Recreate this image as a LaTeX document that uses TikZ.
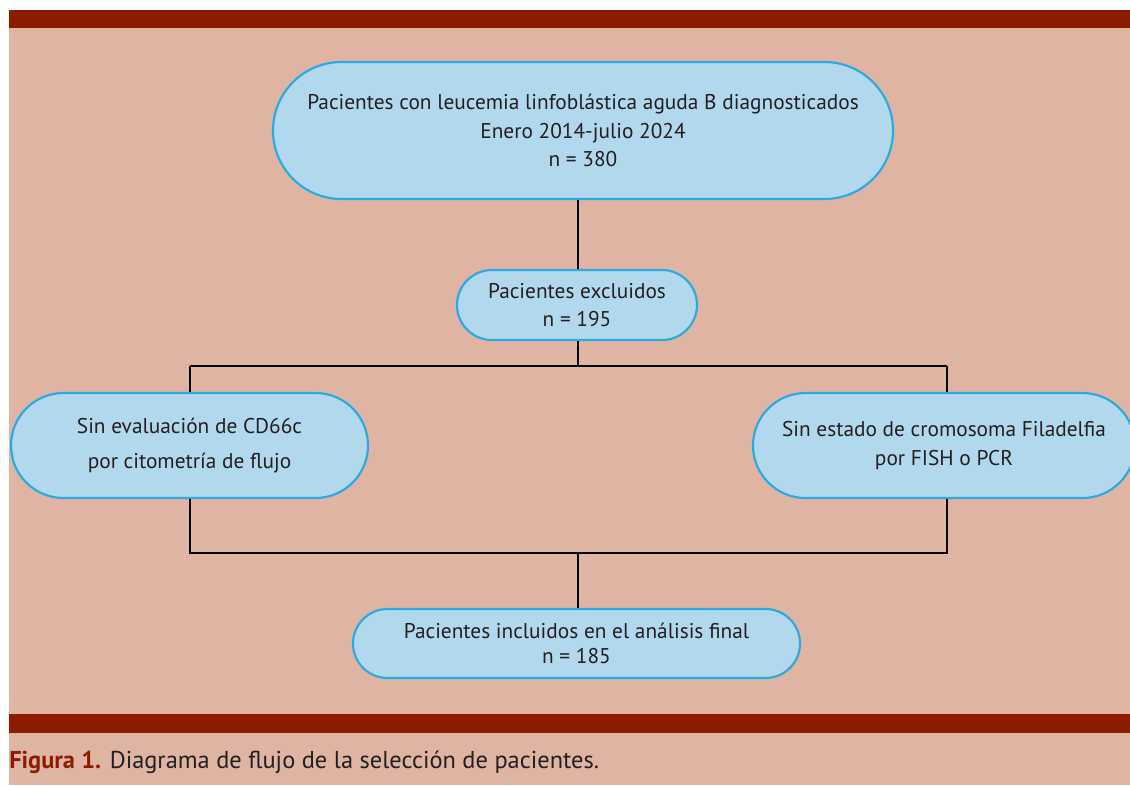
\documentclass[tikz,border=0pt]{standalone}
\usepackage{fontspec}
\setmainfont{PT Sans}
\usetikzlibrary{shapes.misc}
\definecolor{barred}{RGB}{139,28,0}
\definecolor{bgpink}{RGB}{223,180,163}
\definecolor{boxfill}{RGB}{178,216,238}
\definecolor{boxline}{RGB}{41,170,225}
\definecolor{txt}{RGB}{35,31,32}
\begin{document}
\begin{tikzpicture}[x=0.75pt,y=-0.75pt,
  flowbox/.style={rounded rectangle, draw=boxline, fill=boxfill, line width=1.6pt,
    inner sep=0pt, align=center, text=txt, font=\fontsize{16}{21.2}\selectfont},
  link/.style={draw=black, line width=1.4pt},
  thicklink/.style={draw=black, line width=2.2pt}]
\useasboundingbox (0,0) rectangle (1130,785);
\fill[white] (0,0) rectangle (1130,785);
\fill[bgpink] (9,10) rectangle (1130,785);
\fill[barred] (9,10) rectangle (1130,28);
\fill[barred] (9,714) rectangle (1130,733);
\begin{scope}
\clip (9,10) rectangle (1130,785);
\node[flowbox, minimum width=620*0.75pt, minimum height=137*0.75pt] (top) at (583,130.5)
  {Pacientes con leucemia linfoblástica aguda B diagnosticados\\Enero 2014-julio 2024\\n = 380};
\node[flowbox, minimum width=240*0.75pt, minimum height=70*0.75pt] (excl) at (577,305)
  {Pacientes excluidos\\n = 195};
\node[flowbox, minimum width=357*0.75pt, minimum height=105*0.75pt] (left) at (189.5,445.5)
  {Sin evaluación de CD66c\\[5pt]por citometría de flujo};
\node[flowbox, minimum width=382*0.75pt, minimum height=105*0.75pt] (right) at (944,445.5)
  {Sin estado de cromosoma Filadelfia\\por FISH o PCR};
\node[flowbox, minimum width=447*0.75pt, minimum height=69*0.75pt] (final) at (576.5,643.5)
  {Pacientes incluidos en el análisis final\\[-2.5pt]n = 185};
\coordinate (j1) at (578,366);
\coordinate (jl) at (190,366);
\coordinate (jr) at (947,366);
\coordinate (jl2) at (190,553);
\coordinate (jr2) at (947,553);
\coordinate (j2) at (578,553);
\draw[link] (top.south -| j1) -- (excl.north -| j1);
\draw[thicklink] (excl.south -| j1) -- (j1);
\draw[link] (jl) -- (jr);
\draw[link] (jl) -- (left.north -| jl);
\draw[link] (jr) -- (right.north -| jr);
\draw[link] (left.south -| jl) -- (jl2) -- (jr2) -- (right.south -| jr);
\draw[thicklink] (j2) -- (final.north -| j2);
\end{scope}
\node[anchor=base west, inner sep=0pt, text=txt, font=\fontsize{18.3}{22}\selectfont] (cap) at (9,768)
  {\textcolor{barred}{\bfseries Figura 1.} Diagrama de flujo de la selección de pacientes.};
\end{tikzpicture}
\end{document}
